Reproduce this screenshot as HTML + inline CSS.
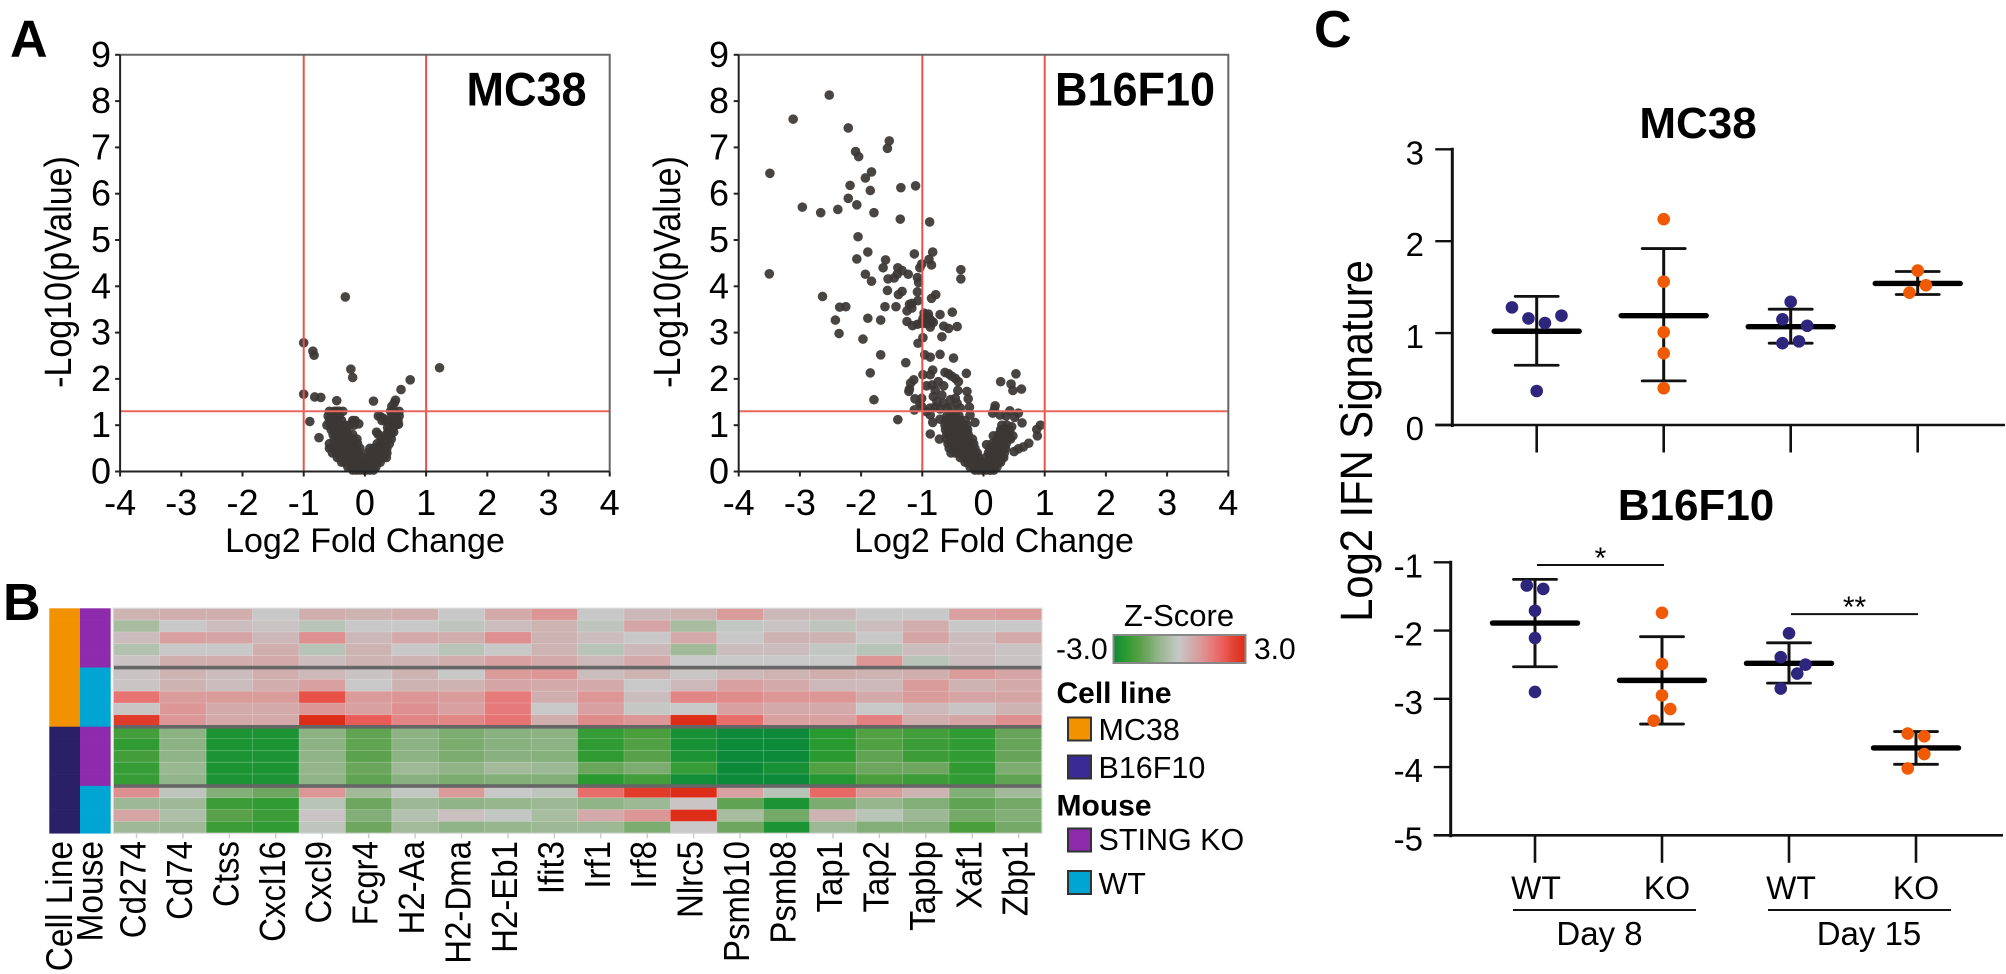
<!DOCTYPE html>
<html lang="en">
<head>
<meta charset="utf-8">
<title>IFN signature figure</title>
<style>
html,body{margin:0;padding:0;background:#fff;}
svg{display:block;}
text{font-family:"Liberation Sans",Arial,sans-serif;fill:#000;}
</style>
</head>
<body>
<svg id="figure" xmlns="http://www.w3.org/2000/svg" width="2006" height="974" viewBox="0 0 2006 974">
  <rect x="0" y="0" width="2006" height="974" fill="#fff"/>
  <text x="10" y="56.5" font-size="52" font-weight="700">A</text>
  <text x="3" y="620" font-size="52" font-weight="700">B</text>
  <text x="1314" y="47" font-size="52" font-weight="700">C</text>

  <text transform="translate(526.5 105.5) scale(1 1.06)" font-size="45" font-weight="700" text-anchor="middle">MC38</text>
  <text transform="translate(1135 105.5) scale(1 1.06)" font-size="45" font-weight="700" text-anchor="middle">B16F10</text>
  <text x="365" y="552" font-size="34" text-anchor="middle">Log2 Fold Change</text>
  <text x="994" y="552" font-size="34" text-anchor="middle">Log2 Fold Change</text>
  <text transform="translate(71 272) rotate(-90) scale(1 1.12)" font-size="34" text-anchor="middle">-Log10(pValue)</text>
  <text transform="translate(680 272) rotate(-90) scale(1 1.12)" font-size="34" text-anchor="middle">-Log10(pValue)</text>

  <text x="1179" y="626" font-size="31" text-anchor="middle">Z-Score</text>
  <text x="1056" y="659" font-size="30">-3.0</text>
  <text x="1254" y="659" font-size="30">3.0</text>
  <text x="1056.5" y="703" font-size="30" font-weight="700">Cell line</text>
  <rect x="1068" y="717.5" width="23" height="23" fill="#f39200" stroke="#333" stroke-width="2"/>
  <text x="1098.5" y="740" font-size="30.5">MC38</text>
  <rect x="1068" y="755.5" width="23" height="23" fill="#3a2a96" stroke="#333" stroke-width="2"/>
  <text x="1098.5" y="778" font-size="30.5">B16F10</text>
  <text x="1056.5" y="815.5" font-size="30" font-weight="700">Mouse</text>
  <rect x="1068" y="828.5" width="23" height="23" fill="#8e2bad" stroke="#333" stroke-width="2"/>
  <text x="1098.5" y="850" font-size="30.5">STING KO</text>
  <rect x="1068" y="871" width="23" height="23" fill="#00a5d4" stroke="#333" stroke-width="2"/>
  <text x="1098.5" y="894" font-size="30.5">WT</text>

  <text transform="translate(1372 441) rotate(-90) scale(1 1.1)" font-size="41.7" text-anchor="middle">Log2 IFN Signature</text>
  <text x="1698" y="138" font-size="44" font-weight="700" text-anchor="middle">MC38</text>
  <text x="1696" y="520" font-size="44" font-weight="700" text-anchor="middle">B16F10</text>
  <line x1="1513" y1="910" x2="1696" y2="910" stroke="#111" stroke-width="2"/>
  <line x1="1768" y1="910" x2="1951" y2="910" stroke="#111" stroke-width="2"/>
  <text x="1599.5" y="945" font-size="33" text-anchor="middle">Day 8</text>
  <text x="1869" y="945" font-size="33" text-anchor="middle">Day 15</text>
</svg>
<script>
/* ---------- Panel A data: [log2 fold change, -log10 p] ---------- */
const volcanoXTicks = [-4,-3,-2,-1,0,1,2,3,4];
const volcanoYTicks = [0,1,2,3,4,5,6,7,8,9];
const foldThresholds = [-1,1];
const pThreshold = 1.3;
const mc38Points = [
[-.32,3.77],[-1,2.78],[-.85,2.6],[-.83,2.51],[-.23,2.21],[-.2,2.03],[1.22,2.24],[.74,1.98],[.59,1.77],[-1,1.67],[-.82,1.61],[-.72,1.6],[-.46,1.53],[.14,1.52],[.5,1.54],[.48,1.48],[.44,1.41],[-.9,1.08],[-.75,.73],
[-.58,1.3],[-.5,1.3],[-.46,1.3],[-.42,1.3],[-.36,1.3],[-.6,1.2],[-.54,1.2],[-.48,1.2],[-.42,1.2],
[-.58,1.1],[-.52,1.1],[-.45,1.1],[-.38,1.1],[-.2,1.1],[-.16,1.1],[-.62,1],[-.55,1],[-.48,1],[-.42,1],[-.33,1],[-.25,1],[-.18,1],[-.1,1.03],
[-.55,.9],[-.5,.9],[-.44,.9],[-.38,.9],[-.3,.9],[-.52,.8],[-.46,.8],[-.4,.8],[-.34,.8],[-.28,.8],[-.2,.8],
[-.5,.7],[-.44,.7],[-.38,.7],[-.32,.7],[-.26,.7],[-.19,.7],[-.13,.7],[-.58,.6],[-.5,.6],[-.44,.6],[-.38,.6],[-.32,.6],[-.26,.6],[-.2,.6],[-.12,.6],
[-.58,.5],[-.54,.5],[-.46,.5],[-.4,.5],[-.34,.5],[-.28,.5],[-.22,.5],[-.14,.5],[-.08,.5],
[-.53,.4],[-.47,.4],[-.42,.4],[-.36,.4],[-.3,.4],[-.24,.4],[-.18,.4],[-.1,.4],
[-.45,.3],[-.4,.3],[-.34,.3],[-.28,.3],[-.22,.3],[-.16,.3],[-.1,.3],[-.04,.3],
[-.38,.2],[-.33,.2],[-.27,.2],[-.21,.2],[-.15,.2],[-.09,.2],[-.03,.2],[-.28,.1],[-.22,.1],[-.16,.1],[-.1,.1],[-.04,.1],[-.2,.03],[-.14,.03],[-.08,.03],[-.02,.03],
[.42,1.3],[.48,1.3],[.56,1.3],[.5,1.2],[.56,1.2],[.22,1.2],[.26,1.18],[.3,1.15],[.44,1.2],[.45,1.1],[.54,1.1],[.28,1.1],[.35,1.1],[.4,1],[.5,1],[.52,1.02],[.37,.95],[.46,.95],[.55,1.02],
[.19,.85],[.38,.85],[.47,.85],[.43,.85],[.22,.8],[.35,.8],[.42,.8],[.27,.7],[.33,.7],[.38,.7],[.43,.7],[.2,.6],[.26,.6],[.33,.6],[.4,.6],
[.08,.5],[.14,.5],[.2,.5],[.26,.5],[.32,.5],[.36,.5],[.05,.4],[.1,.4],[.16,.4],[.22,.4],[.28,.4],[.33,.4],[.36,.4],
[.06,.3],[.12,.3],[.18,.3],[.24,.3],[.3,.3],[.35,.3],[.02,.2],[.08,.2],[.14,.2],[.2,.2],[.25,.2],[0,.1],[.06,.1],[.12,.1],[.18,.1],[.02,.03],[.08,.03],[.14,.03]
];
const b16Points = [
[-2.52,8.13],[-3.11,7.61],[-2.21,7.42],[-1.54,7.14],[-1.57,6.98],[-2.09,6.91],[-2.04,6.8],[-3.49,6.44],[-1.83,6.47],[-1.93,6.34],[-2.18,6.18],[-1.85,6.07],[-1.35,6.13],[-1.11,6.17],[-2.21,5.9],[-2.07,5.76],[-2.96,5.71],[-2.66,5.59],[-2.38,5.66],[-1.79,5.59],[-1.36,5.45],[-.88,5.39],[-2.05,5.07],
[-1.89,4.74],[-2.07,4.59],[-1.6,4.57],[-1.13,4.7],[-.83,4.74],[-.89,4.58],[-.85,4.46],[-1.01,4.48],[-1.04,4.4],[-1.64,4.4],[-1.4,4.4],[-1.33,4.34],[-1.41,4.26],[-1.46,4.18],[-1.23,4.26],[-1.93,4.26],[-3.5,4.27],[-1.56,4.16],[-1.83,4.11],[-1.08,4.19],[-1.06,4.08],[-.37,4.36],[-.37,4.16],
[-1.57,3.91],[-1.08,3.88],[-1.33,3.89],[-1.39,3.82],[-2.63,3.78],[-.78,3.82],[-.85,3.74],[-1.07,3.69],[-1.17,3.63],[-1.21,3.61],[-1.17,3.53],[-1.25,3.47],[-2.35,3.55],[-2.25,3.56],[-1.61,3.56],[-1.43,3.56],[-.71,3.39],[-.51,3.44],[-2.42,3.27],[-1.89,3.31],[-1.68,3.27],[-1.25,3.24],[-1.16,3.15],[-2.36,2.98],[-1.97,2.86],[-1.07,2.77],[-.99,2.89],[-.68,2.91],[-.65,3.14],[-.57,3.09],[-.43,3.13],
[-.97,3.42],[-.92,3.35],[-.88,3.3],[-.85,3.25],[-.9,3.2],[-.82,3.22],[-.95,3.2],[-.87,3.12],[-1.02,3.2],[-1.08,3.18],[-.99,3.3],[-.9,3.4],[-.96,2.52],[-.87,2.47],[-.71,2.53],[-.49,2.45],[-1.27,2.35],[-1.68,2.52],[-1.85,2.13],[-1.79,1.55],
[-.83,2.19],[-.99,2.09],[-.87,2.09],[-1.14,1.98],[-1.19,1.91],[-1.21,1.78],[-1.22,1.73],[-.63,2.14],[-.57,2.11],[-.52,2.06],[-.46,2.01],[-.41,1.94],[-.28,2.12],[-.93,1.85],[-.84,1.87],[-.74,1.94],[-.65,1.85],[-.79,1.76],[-.42,1.75],[-.27,1.73],[-.68,1.65],[-.82,1.62],[-.25,1.57],[-1.12,1.57],[-1.01,1.58],[-1.04,1.47],[-.76,1.51],[-.65,1.47],[-.54,1.55],[-.46,1.58],[-.43,1.47],[-.23,1.39],[-1.13,1.33],[-1.01,1.4],
[-.87,1.37],[-.79,1.39],[-.71,1.35],[-.6,1.37],[-.93,1.29],[-.38,1.37],[-.52,1.37],[-.22,1.22],[-.87,1.22],[-.71,1.13],[-.83,1.06],[-.14,1.06],[-1.4,1.12],[-.87,.81],[-.72,.7],
[-.6,1.2],[-.55,1.2],[-.5,1.2],[-.45,1.2],[-.4,1.2],[-.62,1.1],[-.56,1.1],[-.5,1.1],[-.44,1.1],[-.38,1.1],[-.3,1.1],[-.63,1],[-.57,1],[-.51,1],[-.45,1],[-.39,1],[-.33,1],[-.27,1],
[-.62,.9],[-.56,.9],[-.5,.9],[-.44,.9],[-.38,.9],[-.32,.9],[-.26,.9],[-.6,.8],[-.55,.8],[-.49,.8],[-.43,.8],[-.37,.8],[-.31,.8],[-.25,.8],
[-.6,.7],[-.54,.7],[-.48,.7],[-.42,.7],[-.36,.7],[-.3,.7],[-.24,.7],[-.18,.7],[-.58,.6],[-.52,.6],[-.46,.6],[-.4,.6],[-.34,.6],[-.28,.6],[-.22,.6],[-.16,.6],
[-.56,.5],[-.5,.5],[-.44,.5],[-.38,.5],[-.32,.5],[-.26,.5],[-.2,.5],[-.14,.5],[-.53,.4],[-.46,.4],[-.4,.4],[-.34,.4],[-.28,.4],[-.22,.4],[-.16,.4],[-.1,.4],
[-.38,.3],[-.32,.3],[-.26,.3],[-.2,.3],[-.14,.3],[-.08,.3],[-.3,.2],[-.25,.2],[-.19,.2],[-.13,.2],[-.07,.2],[-.02,.2],[-.22,.1],[-.16,.1],[-.1,.1],[-.04,.1],[.02,.1],[-.14,.03],[-.08,.03],[-.02,.03],[.04,.03],[.1,.03],
[.19,1.42],[.18,1.35],[.43,1.31],[.15,1.26],[.27,1.22],[.37,1.2],[.51,1.17],[.57,1.26],[.28,1.94],[.45,1.89],[.53,2.11],[.48,1.75],[.62,1.78],[.63,1.05],[.93,1],[.87,.91],[.88,.77],[.74,.61],[.65,.53],[.57,.49],[.5,.43],[.3,1],[.38,1],[.46,.97],[.16,.77],[.05,.58],
[.28,.9],[.33,.9],[.38,.9],[.43,.9],[.25,.8],[.3,.8],[.36,.8],[.42,.8],[.48,.77],[.22,.7],[.28,.7],[.33,.7],[.39,.7],[.44,.7],[.14,.6],[.2,.6],[.26,.6],[.32,.6],[.37,.6],
[.1,.5],[.15,.5],[.2,.5],[.26,.5],[.32,.5],[.36,.5],[.08,.4],[.13,.4],[.18,.4],[.23,.4],[.29,.4],[.34,.4],[.04,.3],[.1,.3],[.15,.3],[.2,.3],[.25,.3],[.3,.3],[.33,.3],
[.05,.2],[.1,.2],[.15,.2],[.2,.2],[.25,.2],[.28,.2],[.06,.1],[.12,.1],[.18,.1],[.22,.1],[.12,.03],[.17,.03]
];

/* ---------- Panel B data ---------- */
const geneNames = ["Cd274","Cd74","Ctss","Cxcl16","Cxcl9","Fcgr4","H2-Aa","H2-Dma","H2-Eb1","Ifit3","Irf1","Irf8","Nlrc5","Psmb10","Psmb8","Tap1","Tap2","Tapbp","Xaf1","Zbp1"];
const rowCellLine = ["MC38","MC38","MC38","MC38","MC38","MC38","MC38","MC38","MC38","MC38","B16F10","B16F10","B16F10","B16F10","B16F10","B16F10","B16F10","B16F10","B16F10"];
const rowMouse = ["KO","KO","KO","KO","KO","WT","WT","WT","WT","WT","KO","KO","KO","KO","KO","WT","WT","WT","WT"];
const heatZ = [
[.4,.5,.5,0,.5,.4,.5,0,.6,1,0,.3,.4,.9,.3,.3,0,0,.8,.9],
[-.6,0,.2,.1,-.3,0,0,-.2,.2,.4,-.2,.7,-.6,-.1,.1,-.2,.2,.5,0,0],
[.2,.8,.7,.3,1.1,.3,.6,.5,1.1,.4,.2,0,.6,0,.4,.4,0,.7,.2,.6],
[-.4,0,0,.5,-.3,.4,0,-.3,0,.4,-.3,.3,-.7,.2,.2,-.1,-.3,.2,.2,.1],
[.1,.5,.5,.6,.2,.4,.4,.5,.8,.6,.3,.6,0,0,0,0,1,-.3,.2,.1],
[.1,.4,.2,.5,.3,.1,.4,0,.9,1,.2,.4,.05,.3,.4,.5,.4,.5,.9,.7],
[.05,.4,.2,.5,.8,0,.4,.4,.7,.6,.6,0,.3,.8,.6,.3,.3,.9,.4,.6],
[1.6,.9,.9,.9,2.2,.9,1,.9,1.5,.5,1,.2,1.3,1.2,1,1,.6,.9,.7,.7],
[.05,1,.6,.6,1,.8,1.1,.8,1.5,0,.8,-.05,0,.8,.6,.6,0,.3,.1,.4],
[2.6,1,.6,.6,3,2,1.3,1.3,1.6,.5,1.2,1,3,1.7,.8,.8,1.4,.5,.7,1.1],
[-2.1,-1.05,-2.7,-2.7,-1.05,-1.7,-1.05,-1.3,-1.1,-1.05,-2.3,-2,-2.8,-3,-3,-2.5,-1.9,-2.1,-2.4,-1.6],
[-2.4,-1.05,-2.7,-2.7,-1.05,-1.7,-1.05,-1.3,-1.1,-1.05,-2.4,-1.9,-2.8,-3,-3,-2.5,-1.9,-2.2,-2.4,-1.6],
[-2.1,-1,-2.7,-2.7,-1,-1.75,-1.05,-1.3,-1.1,-1.15,-2.4,-1.8,-2.7,-3,-3,-2.5,-1.7,-2.2,-2.4,-1.6],
[-2.3,-.85,-2.7,-2.7,-.95,-1.55,-.75,-1,-.7,-.8,-1.55,-1.3,-2.3,-3,-2.8,-1.9,-1.5,-1.5,-2.4,-1.3],
[-2.3,-.95,-2.7,-2.7,-1,-1.7,-1.1,-1.3,-1.2,-1.2,-2.5,-2.1,-2.9,-3,-3,-2.6,-2,-2.2,-2.4,-1.7],
[1.1,-.2,-1.2,-1.5,1,-.7,-.1,.9,0,-.2,1.7,2.6,3,.8,-.3,1.8,.9,.4,-1.2,-.7],
[-.8,-.75,-2.2,-2.4,-.3,-1.5,-.8,-1,-.9,-.8,-1,-.8,.05,-1.7,-2.7,-1.3,-.9,-1.2,-1.7,-1.4],
[.7,-.5,-1.8,-2.2,.1,-1.2,-.4,.15,-.1,-.6,.6,1,3,-.6,-1.4,.4,-.3,-.8,-1.4,-1.2],
[-.75,-.75,-2.2,-2.4,-.2,-1.5,-.7,-1,-.9,-.8,-.8,-1.3,0,-1.5,-2.7,-.8,-1.2,-1.2,-2,-1.4]
];
const scaleValues = [-3,-2.5,-2,-1.5,-1,-.6,-.3,0,.3,.5,.8,1,1.5,2,2.5,3];
const scaleColors = ["#0c8a3a","#289a30","#4a9e3c","#6ea660","#90b488","#a8bca0","#b8c4b8","#c8c8c8","#ccb8b8","#d0aeae","#d8a0a0","#dc9696","#e67a7a","#ea5c58","#e24030","#dd2c18"];

/* ---------- Panel C data ---------- */
const groupLabels = ["WT","KO","WT","KO"];
const mc38YTicks = [0,1,2,3];
const b16YTicks = [-5,-4,-3,-2,-1];
const mc38Means = [1.02,1.19,1.07,1.54];
const mc38Upper = [1.40,1.92,1.26,1.67];
const mc38Lower = [.65,.48,.89,1.42];
const mc38Values = [[1.28,1.16,1.11,1.19,.37],[2.24,1.56,1.01,.78,.40],[1.34,1.15,1.08,.91,.89],[1.68,1.52,1.44]];
const mc38Slots = [[-3,-1,1,3,0],[0,0,0,0,0],[0,-1,2,1,-1],[0,1,-1]];
const b16Means = [-1.89,-2.73,-2.48,-3.72];
const b16Upper = [-1.25,-2.09,-2.18,-3.48];
const b16Lower = [-2.53,-3.37,-2.77,-3.96];
const b16Values = [[-1.34,-1.39,-1.71,-2.11,-2.90],[-1.74,-2.49,-2.95,-3.15,-3.32],[-2.04,-2.39,-2.50,-2.63,-2.85],[-3.51,-3.55,-3.81,-4.02]];
const b16Slots = [[-1,1,0,0,0],[0,0,0,1,-1],[0,-1,2,1,-1],[-1,1,1,-1]];
const significanceGroups = [[0,1],[2,3]];
const significanceLevels = [-1.04,-1.76];
const significanceMarks = ["*","**"];

/* ---------- Drawing ---------- */
const NS = "http://www.w3.org/2000/svg";
const svg = document.getElementById("figure");
function mk(tag, attrs, parent, txt) {
  const n = document.createElementNS(NS, tag);
  for (const k in attrs) n.setAttribute(k, attrs[k]);
  if (txt !== undefined) n.textContent = txt;
  (parent || svg).appendChild(n);
  return n;
}

function drawVolcano(prefix, x0, points, labelRight) {
  const xS = v => x0 + v * 61.2;
  const yS = v => 471.5 - v * 46.3;
  const g = mk("g", {});
  
  
  points.forEach(p => {
    const c = mk("circle", {cx: xS(p[0]), cy: yS(p[1]), r: 4.8, fill: "#3a3735", "fill-opacity": .93}, g);
    
    
  });
  foldThresholds.forEach(v => {
    const l = mk("line", {x1: xS(v), x2: xS(v), y1: yS(9), y2: yS(0), stroke: "#e8534a", "stroke-width": 2}, g);
    
    
  });
  const h = mk("line", {x1: xS(-4), x2: xS(4), y1: yS(pThreshold), y2: yS(pThreshold), stroke: "#e8675f", "stroke-width": 2}, g);
  
  
  const top = mk("path", {d: `M${xS(-4)} ${yS(9)}H${xS(4)}V${yS(0)}`, fill: "none", stroke: "#666", "stroke-width": 2}, g);
  
  
  const ax = mk("path", {d: `M${xS(-4)} ${yS(9)}V${yS(0)}H${xS(4)}`, fill: "none", stroke: "#222", "stroke-width": 2}, g);
  
  
  volcanoXTicks.forEach(v => {
    const t = mk("line", {x1: xS(v), x2: xS(v), y1: yS(0), y2: yS(0) + 5, stroke: "#222", "stroke-width": 2}, g);
    
    
    const lb = mk("text", {x: xS(v), y: 515, "font-size": 36, "text-anchor": "middle"}, g, String(v));
    
    
  });
  volcanoYTicks.forEach(v => {
    const t = mk("line", {x1: xS(-4) - 5, x2: xS(-4), y1: yS(v), y2: yS(v), stroke: "#222", "stroke-width": 2}, g);
    
    
    const lb = mk("text", {x: labelRight, y: yS(v) + 12, "font-size": 36, "text-anchor": "end"}, g, String(v));
    
    
  });
}
drawVolcano("mc38", 364.9, mc38Points, 111);
drawVolcano("b16f10", 983.5, b16Points, 729);

function hexToRgb(h) { return [1,3,5].map(i => parseInt(h.substr(i,2),16)); }
function zColor(z) {
  const v = Math.max(-3, Math.min(3, z));
  let i = 0;
  while (i < scaleValues.length - 2 && v > scaleValues[i + 1]) i++;
  const f = (v - scaleValues[i]) / (scaleValues[i + 1] - scaleValues[i]);
  const a = hexToRgb(scaleColors[i]), b = hexToRgb(scaleColors[i + 1]);
  return "rgb(" + a.map((c, k) => Math.round(c + (b[k] - c) * f)).join(",") + ")";
}

(function drawHeatmap() {
  const left = 113.3, top = 608.3, cw = 46.43, rh = 11.84;
  const g = mk("g", {});
  
  
  const cellLineColor = {MC38: "#f39200", B16F10: "#2a2068"};
  const mouseColor = {KO: "#8e2bad", WT: "#00a5d4"};
  heatZ.forEach((row, r) => {
    const a1 = mk("rect", {x: 49.3, y: top + r * rh, width: 30.7, height: rh + .3, fill: cellLineColor[rowCellLine[r]]}, g);
    
    
    const a2 = mk("rect", {x: 80, y: top + r * rh, width: 30.7, height: rh + .3, fill: mouseColor[rowMouse[r]]}, g);
    
    
    row.forEach((z, c) => {
      const cell = mk("rect", {x: left + c * cw, y: top + r * rh, width: cw, height: rh, fill: zColor(z), stroke: "#fff", "stroke-opacity": .14, "stroke-width": .8}, g);
      
      
    });
  });
  [5, 10, 15].forEach(b => {
    const sep = mk("rect", {x: left, y: top + b * rh - 1.7, width: cw * 20, height: 3.6, fill: "#666"}, g);
    
    
  });
  const frame = mk("rect", {x: left, y: top, width: cw * 20, height: rh * 19, fill: "none", stroke: "#d8d8d8", "stroke-width": 1.2}, g);
  
  
  const topY = top + 19 * rh;
  geneNames.forEach((name, c) => {
    const cx = left + (c + .5) * cw;
    const t = mk("line", {x1: cx, x2: cx, y1: topY, y2: topY + 5, stroke: "#ccc", "stroke-width": 1.5}, g);
    
    
    const lb = mk("text", {transform: `translate(${cx + 9} 841) rotate(-90) scale(1 1.1)`, "font-size": 33, "text-anchor": "end"}, g, name);
    
    
  });
  const l1 = mk("text", {transform: "translate(72 841) rotate(-90) scale(1 1.12)", "font-size": 33.5, "text-anchor": "end"}, g, "Cell Line");
  
  
  const l2 = mk("text", {transform: "translate(102.5 841) rotate(-90) scale(1 1.12)", "font-size": 33.5, "text-anchor": "end"}, g, "Mouse");
  
  
  /* colour bar */
  const bx = 1113.5, bw = 132, bn = 60;
  for (let i = 0; i < bn; i++) {
    const s = mk("rect", {x: bx + i * bw / bn, y: 635, width: bw / bn + .4, height: 28, fill: zColor(-3 + 6 * (i + .5) / bn)}, g);
    
    
  }
  const bf = mk("rect", {x: bx, y: 635, width: bw, height: 28, fill: "none", stroke: "#888", "stroke-width": 2}, g);
  
  
})();

function drawDotPlot(prefix, axisX, groupX0, xEnd, yS, ticks, tickTop, tickBottom, means, upper, lower, values, slots, labelRight) {
  const xS = i => groupX0 + 127 * i;
  const g = mk("g", {});
  
  
  const yAx = mk("line", {x1: axisX, x2: axisX, y1: yS(tickTop) - 1.5, y2: yS(tickBottom) + 2, stroke: "#111", "stroke-width": 3}, g);
  
  
  const xAx = mk("line", {x1: axisX - 17, x2: xEnd, y1: yS(tickBottom), y2: yS(tickBottom), stroke: "#111", "stroke-width": 2.6}, g);
  
  
  ticks.forEach(v => {
    const t = mk("line", {x1: axisX - 17, x2: axisX, y1: yS(v), y2: yS(v), stroke: "#111", "stroke-width": 2.4}, g);
    
    
    const lb = mk("text", {x: labelRight, y: yS(v) + 15, "font-size": 33, "text-anchor": "end"}, g, String(v));
    
    
  });
  means.forEach((m, i) => {
    const x = xS(i);
    const t = mk("line", {x1: x, x2: x, y1: yS(tickBottom), y2: yS(tickBottom) + 27.5, stroke: "#111", "stroke-width": 2.6}, g);
    
    
    const st = mk("line", {x1: x, x2: x, y1: yS(upper[i]), y2: yS(lower[i]), stroke: "#111", "stroke-width": 3}, g);
    
    
    [upper[i], lower[i]].forEach(e => {
      const cap = mk("line", {x1: x - 21.5, x2: x + 21.5, y1: yS(e), y2: yS(e), stroke: "#111", "stroke-width": 2.8, "stroke-linecap": "round"}, g);
      
      
    });
    const mb = mk("line", {x1: x - 42.5, x2: x + 42.5, y1: yS(m), y2: yS(m), stroke: "#000", "stroke-width": 5.4, "stroke-linecap": "round"}, g);
    
    
    values[i].forEach((v, k) => {
      const d = mk("circle", {cx: x + slots[i][k] * 8.25, cy: yS(v), r: 6.3, fill: i % 2 ? "#f05a05" : "#2e267c"}, g);
      
      
    });
  });
}
const yMc = v => 425 - v * 91.9;
const yB = v => 562.3 - (v + 1) * 68.25;
drawDotPlot("mc38", 1452.3, 1536.7, 2005, yMc, mc38YTicks, 3, 0, mc38Means, mc38Upper, mc38Lower, mc38Values, mc38Slots, 1424);
drawDotPlot("b16f10", 1450.7, 1535, 2003, yB, b16YTicks, -1, -5, b16Means, b16Upper, b16Lower, b16Values, b16Slots, 1423);

significanceGroups.forEach((pair, i) => {
  const x1 = 1537 + 127 * pair[0], x2 = 1537 + 127 * pair[1];
  const l = mk("line", {x1: x1, x2: x2, y1: yB(significanceLevels[i]), y2: yB(significanceLevels[i]), stroke: "#111", "stroke-width": 2});
  
  
  const t = mk("text", {x: (x1 + x2) / 2, y: yB(significanceLevels[i]) + 3, "font-size": 30, "text-anchor": "middle"}, svg, significanceMarks[i]);
  
  
});
groupLabels.forEach((name, i) => {
  const lx = [1536, 1667, 1791, 1916][i];
  const t = mk("text", {x: lx, y: 899, "font-size": 32, "text-anchor": "middle"}, svg, name);
  
  
});
</script>
</body>
</html>
